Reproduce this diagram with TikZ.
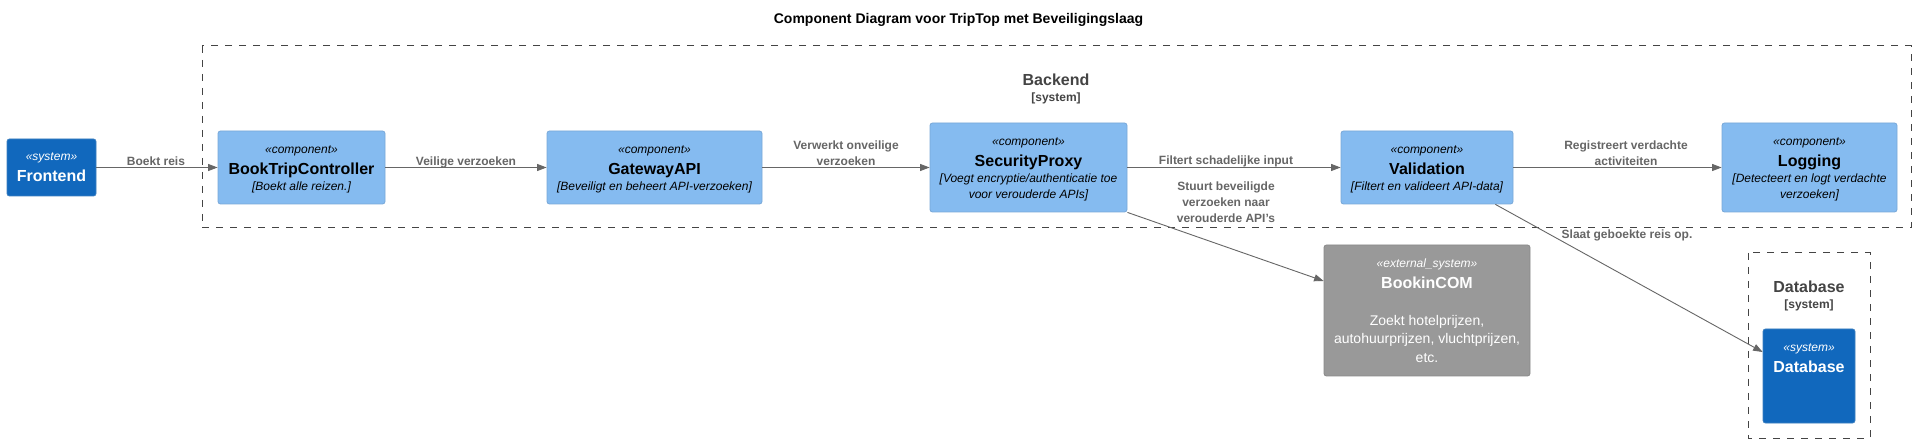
\documentclass[tikz,border=0pt]{standalone}
\usepackage{fontspec}
\setmainfont{Liberation Sans}
\usetikzlibrary{arrows.meta,calc}
\definecolor{sysblue}{HTML}{1168BD}
\definecolor{sysborder}{HTML}{3C7FC0}
\definecolor{compfill}{HTML}{85BBF0}
\definecolor{compborder}{HTML}{78A8D8}
\definecolor{extfill}{HTML}{999999}
\definecolor{extborder}{HTML}{8A8A8A}
\definecolor{relgray}{HTML}{666666}
\definecolor{lblgray}{HTML}{666666}
\definecolor{bndgray}{HTML}{444444}
\newcommand{\stereotxt}[1]{{\fontsize{12}{16}\selectfont\itshape «#1»}}
\newcommand{\stereocomp}[1]{\rule{0pt}{12pt}{\fontsize{12}{16}\selectfont\itshape «#1»}}
\newcommand{\nametxt}[1]{{\fontsize{16}{16}\selectfont\bfseries #1}}
\newcommand{\desctxt}[1]{{\fontsize{12}{16}\selectfont\itshape #1}}
\begin{document}
\begin{tikzpicture}[x=1pt,y=-1pt,
  box/.style={draw, rounded corners=2.5pt, line width=0.8pt, inner sep=0pt, align=center,
    font=\fontsize{12}{16}\selectfont},
  comp/.style={box, fill=compfill, draw=compborder, text=black},
  sys/.style={box, fill=sysblue, draw=sysborder, text=white},
  ext/.style={box, fill=extfill, draw=extborder, text=white},
  rel/.style={draw=relgray, line width=0.9pt, -{Triangle[length=9.5pt,width=7pt]}},
  rlabel/.style={text=lblgray, font=\fontsize{12}{16}\selectfont\bfseries, align=center, inner sep=0pt},
  bound/.style={draw=bndgray, line width=1pt, dash pattern=on 7pt off 7pt},
  btitle/.style={text=bndgray, font=\fontsize{16}{18}\selectfont\bfseries, inner sep=0pt},
  bsub/.style={text=bndgray, font=\fontsize{12}{14}\selectfont\bfseries, inner sep=0pt}
]
\useasboundingbox[fill=white] (0,0) rectangle (1917,443);

% title
\node[font=\fontsize{14}{16}\selectfont\bfseries, inner sep=0pt] (title) at (958.5,20) {Component Diagram voor TripTop met Beveiligingslaag};

% boundaries
\draw[bound] (202,46) rectangle (1911,228);
\node[btitle] (bkt) at (1056,80) {Backend};
\node[bsub] (bks) at (1056,98.5) {[system]};

\draw[bound] (1748,253) rectangle (1870,438);
\node[btitle] (dbt) at (1809,287) {Database};
\node[bsub] (dbs) at (1809,305.5) {[system]};

% nodes
\node[sys, minimum width=89pt, minimum height=57pt] (fe) at (51.5,167.5)
  {\stereotxt{system}\\[5pt]\nametxt{Frontend}};
\node[comp, minimum width=167pt, minimum height=73pt] (btc) at (301.5,167.5)
  {\stereocomp{component}\\[5pt]\nametxt{BookTripController}\\\desctxt{[Boekt alle reizen.]}};
\node[comp, minimum width=215pt, minimum height=73pt] (gw) at (654.5,167.5)
  {\stereocomp{component}\\[5pt]\nametxt{GatewayAPI}\\\desctxt{[Beveiligt en beheert API-verzoeken]}};
\node[comp, minimum width=197pt, minimum height=89pt] (sp) at (1028.5,167.5)
  {\stereocomp{component}\\[5pt]\nametxt{SecurityProxy}\\\desctxt{[Voegt encryptie/authenticatie toe}\\\desctxt{voor verouderde APIs]}};
\node[comp, minimum width=172pt, minimum height=73pt] (val) at (1427,167.5)
  {\stereocomp{component}\\[5pt]\nametxt{Validation}\\\desctxt{[Filtert en valideert API-data]}};
\node[comp, minimum width=175pt, minimum height=89pt] (log) at (1809.5,167.5)
  {\stereocomp{component}\\[5pt]\nametxt{Logging}\\\desctxt{[Detecteert en logt verdachte}\\\desctxt{verzoeken]}};
\node[ext, minimum width=206pt, minimum height=131pt, font=\fontsize{14}{18.5}\selectfont] (bc) at (1427,310.5)
  {\stereotxt{external\_system}\\[2.5pt]\nametxt{BookinCOM}\\[18.5pt]Zoekt hotelprijzen,\\autohuurprijzen, vluchtprijzen,\\etc.};
\node[sys, minimum width=92pt, minimum height=94pt] (db) at (1809,376) {};
\node[align=center, text=white, inner sep=0pt, font=\fontsize{12}{16}\selectfont] (dbtxt) at (1809,358)
  {\stereotxt{system}\\[5pt]\nametxt{Database}};

% relations
\draw[rel] (fe) -- (btc);
\draw[rel] (btc) -- (gw);
\draw[rel] (gw) -- (sp);
\draw[rel] (sp) -- (val);
\draw[rel] (val) -- (log);
\draw[rel] (sp.south east) -- ($(bc.west)+(0,-29.5)$);
\draw[rel] ($(val.south east)+(-18,0)$) -- ($(db.west)+(0,-24)$);

% relation labels
\node[rlabel] (l1) at (156,161.5) {Boekt reis};
\node[rlabel] (l2) at (466,162) {Veilige verzoeken};
\node[rlabel] (l3) at (846,153.5) {Verwerkt onveilige\\verzoeken};
\node[rlabel] (l4) at (1226,161.5) {Filtert schadelijke input};
\node[rlabel] (l5) at (1226,202) {Stuurt beveiligde\\verzoeken naar\\verouderde API's};
\node[rlabel] (l6) at (1626,153.5) {Registreert verdachte\\activiteiten};
\node[rlabel] (l7) at (1627,235.5) {Slaat geboekte reis op.};
\end{tikzpicture}
\end{document}
